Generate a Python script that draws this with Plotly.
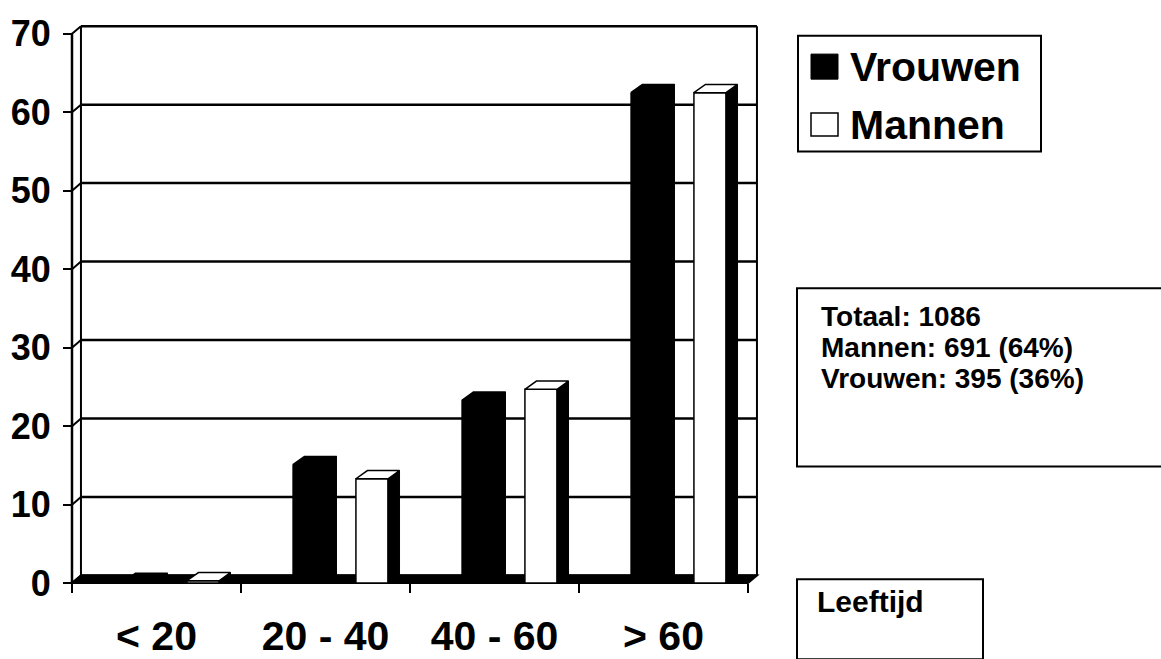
import plotly.graph_objects as go

# ---- data -------------------------------------------------------------
categories = ["< 20", "20 - 40", "40 - 60", "> 60"]
vrouwen = [0.2, 15.1, 23.3, 62.5]
mannen = [0.3, 13.3, 24.7, 62.5]
y_ticks = [0, 10, 20, 30, 40, 50, 60, 70]

legend_labels = ["Vrouwen", "Mannen"]
stats_lines = ["Totaal: 1086", "Mannen: 691 (64%)", "Vrouwen: 395 (36%)"]
axis_caption = "Leeftijd"

# ---- geometry ---------------------------------------------------------
W, H = 1161, 659
FONT = "Liberation Sans, Arial, sans-serif"

# depth of the 3-D box walls and of the columns, in data units
WALL_DX, WALL_DY = 0.053, 0.98
BAR_DX, BAR_DY = 0.068, 1.05
BAR_W = 0.19
OFF_V, OFF_M = 0.307, 0.68  # left edge of each column inside its category

# front axes placement on the page (pixels)
X0_PX, UNIT_X = 72, 169.0
Y0_PX, UNIT_Y = 601, 8.143
x_range = [-0.05, 4.1]
y_range = [-0.6, 72.0]


def px_x(u):
    return X0_PX + u * UNIT_X


def px_y(v):
    return Y0_PX - v * UNIT_Y


def PX(x):
    return x / W


def PY(y):
    return 1 - y / H


domain_x = [PX(px_x(x_range[0])), PX(px_x(x_range[1]))]
domain_y = [PY(px_y(y_range[0])), PY(px_y(y_range[1]))]
n_cat = len(categories)
y_top = y_ticks[-1]

fig = go.Figure()

# ---- columns (front faces) -------------------------------------------
xv = [i + OFF_V + BAR_W / 2 for i in range(n_cat)]
xm = [i + OFF_M + BAR_W / 2 for i in range(n_cat)]
fig.add_trace(go.Bar(x=xv, y=vrouwen, width=BAR_W, name=legend_labels[0],
                     marker=dict(color="black", line=dict(color="black", width=1))))
fig.add_trace(go.Bar(x=xm, y=mannen, width=BAR_W, name=legend_labels[1],
                     marker=dict(color="white", line=dict(color="black", width=1.5))))


def faces(xc, vals):
    side_x, side_y, top_x, top_y = [], [], [], []
    for c, v in zip(xc, vals):
        x0, x1 = c - BAR_W / 2, c + BAR_W / 2
        side_x += [x1, x1 + BAR_DX, x1 + BAR_DX, x1, x1, None]
        side_y += [0, BAR_DY, v + BAR_DY, v, 0, None]
        top_x += [x0, x1, x1 + BAR_DX, x0 + BAR_DX, x0, None]
        top_y += [v, v, v + BAR_DY, v + BAR_DY, v, None]
    return side_x, side_y, top_x, top_y


# ---- columns (side and top faces) ------------------------------------
for xc, vals, top_fill in ((xv, vrouwen, "black"), (xm, mannen, "white")):
    sx, sy, tx, ty = faces(xc, vals)
    fig.add_trace(go.Scatter(x=sx, y=sy, mode="lines", fill="toself",
                             fillcolor="black", line=dict(color="black", width=1),
                             hoverinfo="skip"))
    fig.add_trace(go.Scatter(x=tx, y=ty, mode="lines", fill="toself",
                             fillcolor=top_fill, line=dict(color="black", width=1.5),
                             hoverinfo="skip"))

# ---- box: back wall, left wall, floor --------------------------------
shapes = []
line_k = dict(color="black", width=2.5)
for v in y_ticks:
    shapes.append(dict(type="line", xref="x", yref="y", layer="below",
                       x0=WALL_DX, x1=n_cat + WALL_DX, y0=v + WALL_DY, y1=v + WALL_DY,
                       line=line_k))
    shapes.append(dict(type="line", xref="x", yref="y", layer="below",
                       x0=0, x1=WALL_DX, y0=v, y1=v + WALL_DY, line=dict(color="black", width=2)))
for xx in (WALL_DX, n_cat + WALL_DX):
    shapes.append(dict(type="line", xref="x", yref="y", layer="below",
                       x0=xx, x1=xx, y0=WALL_DY, y1=y_top + WALL_DY,
                       line=dict(color="black", width=2)))
shapes.append(dict(type="line", xref="x", yref="y", layer="below",
                   x0=0, x1=0, y0=0, y1=y_top, line=dict(color="black", width=2.5)))
shapes.append(dict(type="path", xref="x", yref="y", layer="below",
                   path=f"M 0 0 L {n_cat} 0 L {n_cat + WALL_DX} {WALL_DY} L {WALL_DX} {WALL_DY} Z",
                   fillcolor="black", line=dict(color="black", width=2)))

# ---- legend, stats box, caption box (page coordinates) ---------------
box_line = dict(color="black", width=2)
shapes.append(dict(type="rect", xref="paper", yref="paper",
                   x0=PX(798), x1=PX(1041), y0=PY(153), y1=PY(33), line=box_line,
                   fillcolor="white"))
shapes.append(dict(type="rect", xref="paper", yref="paper",
                   x0=PX(811), x1=PX(838), y0=PY(78), y1=PY(52),
                   line=dict(color="black", width=1), fillcolor="black"))
shapes.append(dict(type="rect", xref="paper", yref="paper",
                   x0=PX(811), x1=PX(838), y0=PY(137), y1=PY(113),
                   line=dict(color="black", width=1.5), fillcolor="white"))
shapes.append(dict(type="rect", xref="paper", yref="paper",
                   x0=PX(797), x1=PX(1175), y0=PY(480), y1=PY(295), line=box_line,
                   fillcolor="white"))
shapes.append(dict(type="rect", xref="paper", yref="paper",
                   x0=PX(797), x1=PX(983), y0=PY(680), y1=PY(597), line=box_line,
                   fillcolor="white"))

annotations = []
for label, yc in zip(legend_labels, (65, 126)):
    annotations.append(dict(text=label, xref="paper", yref="paper", x=PX(848), y=PY(yc),
                            xanchor="left", yanchor="middle", showarrow=False,
                            font=dict(family=FONT, size=41, color="black", weight="bold")))
for line, yc in zip(stats_lines, (324, 356.5, 389)):
    annotations.append(dict(text=line, xref="paper", yref="paper", x=PX(819), y=PY(yc),
                            xanchor="left", yanchor="middle", showarrow=False,
                            font=dict(family=FONT, size=28, color="black", weight="bold")))
annotations.append(dict(text=axis_caption, xref="paper", yref="paper", x=PX(815), y=PY(620),
                        xanchor="left", yanchor="middle", showarrow=False,
                        font=dict(family=FONT, size=30, color="black", weight="bold")))

fig.update_layout(
    width=W, height=H,
    margin=dict(l=0, r=0, t=0, b=0),
    paper_bgcolor="white", plot_bgcolor="white",
    showlegend=False, barmode="overlay",
    shapes=shapes, annotations=annotations,
    xaxis=dict(range=x_range, domain=domain_x, anchor="free", position=PY(Y0_PX),
               tickmode="array", tickvals=[i + 0.5 for i in range(n_cat)],
               ticktext=categories, ticks="", showgrid=False, zeroline=False,
               showline=False, ticklabelstandoff=25,
               tickfont=dict(family=FONT, size=41, color="black", weight="bold"),
               minor=dict(tickmode="array", tickvals=list(range(n_cat + 1)),
                          ticks="outside", ticklen=9, tickwidth=2, tickcolor="black",
                          showgrid=False)),
    yaxis=dict(range=y_range, domain=domain_y, anchor="free", position=PX(X0_PX),
               tickmode="array", tickvals=y_ticks, ticks="outside", ticklen=9,
               tickwidth=2, tickcolor="black", showgrid=False, zeroline=False,
               showline=False, ticklabelstandoff=5,
               tickfont=dict(family=FONT, size=36, color="black", weight="bold")),
)

fig.write_html("out.html")
